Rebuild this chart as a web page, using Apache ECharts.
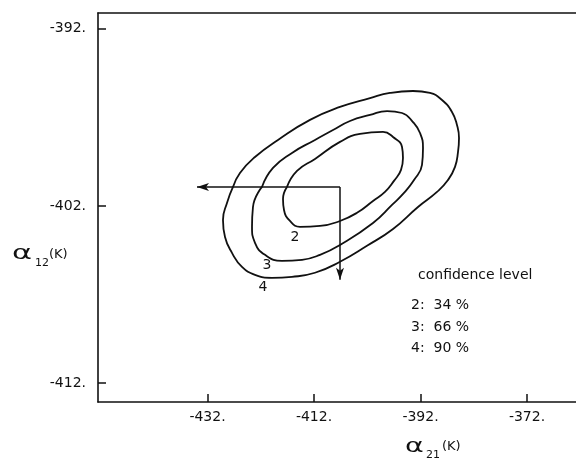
<!DOCTYPE html>
<html>
<head>
<meta charset="utf-8">
<script src="https://cdn.jsdelivr.net/npm/echarts@6/dist/echarts.min.js"></script>
<style>html,body{margin:0;padding:0;background:#fff;}#c{width:576px;height:462px;}</style>
</head>
<body>
<div id="c"></div>
<script>
// Axis ranges and tick labels
var xRange = [-452.56, -362.8];
var yRange = [-413.06, -391.12];
var xTicks = [-432, -412, -392, -372];
var yTicks = [-412, -402, -392];

// Confidence contours (alpha21, alpha12)
var contour2 = [[-417.07,-400.93],[-415.19,-400.03],[-411.81,-399.35],[-407.12,-398.39],[-403.36,-397.94],[-399.04,-397.83],[-397.16,-398.11],[-395.47,-398.68],[-395.29,-399.30],[-395.66,-399.97],[-396.98,-400.59],[-398.67,-401.21],[-400.92,-401.72],[-403.92,-402.39],[-407.12,-402.85],[-410.87,-403.13],[-414.63,-403.18],[-416.51,-402.85],[-417.63,-402.23],[-417.82,-401.61]];
var contour3 = [[-421.77,-400.93],[-419.70,-399.86],[-416.13,-399.01],[-411.81,-398.28],[-408.43,-397.72],[-405.24,-397.21],[-401.48,-396.87],[-398.29,-396.65],[-395.47,-396.76],[-393.41,-397.27],[-392.09,-397.89],[-391.53,-398.73],[-391.72,-399.69],[-393.22,-400.54],[-395.10,-401.27],[-397.35,-401.94],[-400.92,-402.96],[-407.12,-404.20],[-410.87,-404.76],[-414.25,-405.04],[-418.01,-405.10],[-421.20,-404.76],[-423.08,-404.08],[-423.64,-403.18],[-423.46,-402.06]];
var contour4 = [[-427.21,-400.93],[-425.90,-400.14],[-423.08,-399.24],[-418.76,-398.28],[-412.75,-397.15],[-407.12,-396.42],[-401.48,-395.92],[-397.73,-395.63],[-393.41,-395.52],[-390.22,-395.63],[-387.96,-396.03],[-386.09,-396.70],[-385.15,-397.44],[-384.77,-398.17],[-384.96,-398.96],[-385.52,-399.80],[-386.84,-400.54],[-388.90,-401.21],[-392.47,-402.06],[-397.16,-403.30],[-402.05,-404.25],[-407.12,-405.15],[-411.81,-405.77],[-416.13,-406.00],[-419.89,-406.06],[-423.08,-405.89],[-425.52,-405.44],[-427.40,-404.65],[-428.71,-403.75],[-429.09,-402.79],[-428.34,-401.83]];

// Contour labels: [x, y, text]
var contourLabels = [[-415.57,-403.75,'2'],[-420.83,-405.33,'3'],[-421.58,-406.62,'4']];

// Best-fit point and projection arrows
var bestFit = [-407.12, -400.93];
var arrowLeftEnd = [-433.97, -400.93];
var arrowDownEnd = [-407.12, -406.17];

// Legend text
var legendTitle = 'confidence level';
var legendLines = ['2:  34 %', '3:  66 %', '4:  90 %'];

var FONT = 'DejaVu Sans';
var INK = '#111';

function closeLoop(arr){ return arr.concat([arr[0]]); }

function contourSeries(arr){
  return {
    type: 'line', data: closeLoop(arr), symbol: 'none', smooth: 0.5,
    lineStyle: {color: INK, width: 1.8}, silent: true, z: 3
  };
}

var chart = echarts.init(document.getElementById('c'), null, {renderer: 'canvas'});
var option = {
  animation: false,
  backgroundColor: '#fff',
  grid: {left: 98, right: 0, top: 13, bottom: 60},
  xAxis: [{
    type: 'value', min: xRange[0], max: xRange[1],
    axisLine: {show: true, lineStyle: {color: INK, width: 1.6}},
    axisTick: {show: true, inside: true, length: 8, customValues: xTicks, lineStyle: {color: INK, width: 1.5}},
    axisLabel: {customValues: xTicks, formatter: function(v){ return v + '.'; }, color: INK, fontFamily: FONT, fontSize: 14, margin: 8},
    splitLine: {show: false}
  },{
    type: 'value', position: 'top', min: xRange[0], max: xRange[1],
    axisLine: {show: true, lineStyle: {color: INK, width: 1.6}},
    axisTick: {show: false}, axisLabel: {show: false}, splitLine: {show: false}
  }],
  yAxis: {
    type: 'value', min: yRange[0], max: yRange[1],
    axisLine: {show: true, lineStyle: {color: INK, width: 1.6}},
    axisTick: {show: true, inside: true, length: 8, customValues: yTicks, lineStyle: {color: INK, width: 1.5}},
    axisLabel: {customValues: yTicks, formatter: function(v){ return v + '.'; }, color: INK, fontFamily: FONT, fontSize: 14, margin: 12},
    splitLine: {show: false}
  },
  series: [
    contourSeries(contour2),
    contourSeries(contour3),
    contourSeries(contour4),
    {
      type: 'scatter', symbol: 'circle', symbolSize: 1, silent: true, z: 4,
      itemStyle: {color: 'rgba(0,0,0,0)', opacity: 1},
      data: contourLabels.map(function(d){ return {value: [d[0], d[1]], name: d[2]}; }),
      label: {show: true, position: 'inside', opacity: 1, formatter: function(p){ return p.name; }, color: INK, fontFamily: FONT, fontSize: 14},
      markLine: {
        silent: true, symbol: ['none', 'arrow'], symbolSize: [6, 12],
        label: {show: false},
        lineStyle: {color: INK, width: 1.5, type: 'solid', opacity: 1},
        data: [
          [{coord: bestFit}, {coord: arrowLeftEnd}],
          [{coord: bestFit}, {coord: arrowDownEnd}]
        ]
      }
    }
  ],
  graphic: [
    {type: 'text', x: 12, y: 245, scaleX: 1.6, style: {text: 'α', font: '19px "DejaVu Sans"', fill: INK}},
    {type: 'text', x: 35, y: 258, style: {text: '12', font: '11px "DejaVu Sans"', fill: INK}},
    {type: 'text', x: 49, y: 248, style: {text: '(K)', font: '13px "DejaVu Sans"', fill: INK}},
    {type: 'text', x: 405, y: 438, scaleX: 1.5, style: {text: 'α', font: '19px "DejaVu Sans"', fill: INK}},
    {type: 'text', x: 426, y: 450, style: {text: '21', font: '11px "DejaVu Sans"', fill: INK}},
    {type: 'text', x: 442, y: 440, style: {text: '(K)', font: '13px "DejaVu Sans"', fill: INK}},
    {type: 'text', left: 418, top: 268, style: {text: legendTitle, font: '14px "DejaVu Sans"', fill: INK}},
    {type: 'text', left: 411, top: 298, style: {text: legendLines[0], font: '14px "DejaVu Sans"', fill: INK}},
    {type: 'text', left: 411, top: 320, style: {text: legendLines[1], font: '14px "DejaVu Sans"', fill: INK}},
    {type: 'text', left: 411, top: 341, style: {text: legendLines[2], font: '14px "DejaVu Sans"', fill: INK}}
  ]
};
chart.setOption(option);
</script>
</body>
</html>
